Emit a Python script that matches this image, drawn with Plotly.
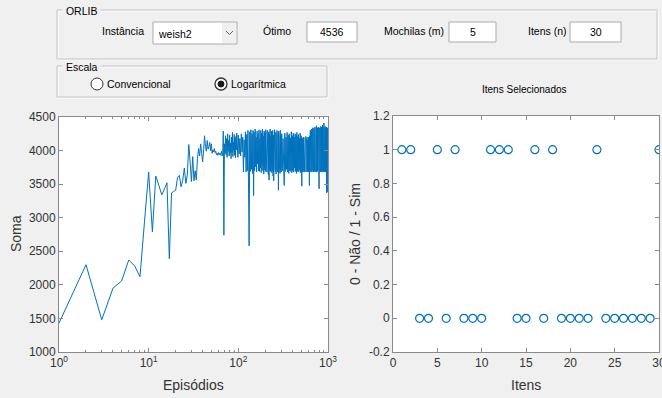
import plotly.graph_objects as go

# ---------------- data ----------------
soma_1_100 = [1430, 2300, 1480, 1950, 2060, 2370, 2280, 2120, 2950, 3680,
              2790, 3620, 3480, 3340, 3430, 3520, 2390, 3370, 3390, 3410,
              3600, 3630, 3460, 3560, 3740, 3510, 3640, 4090, 3830, 3540,
              3910, 3550, 3700, 3560, 3880, 4030, 3920, 4100, 3960, 3830,
              4010, 4220, 4060, 3990, 4150, 4020, 4060, 4120, 4000, 4100,
              3960, 4010, 3980, 4030, 3970, 3990, 3940, 3960, 3930, 3970,
              3940, 3960, 3930, 3950, 3990, 3920, 3950, 4290, 2740, 4100,
              3960, 4220, 3940, 4180, 3900, 4250, 3990, 4150, 3920, 4230,
              3960, 4110, 3880, 4200, 3970, 4270, 3910, 4120, 4000, 4240,
              3930, 4180, 3890, 4210, 4010, 4260, 3950, 4150, 3900, 4230]
soma_102_300 = [3950, 4180, 3920, 4250, 3980, 4200, 3680, 4160, 3900, 4280,
                3680, 4240, 3700, 4300, 3750, 2580, 4280, 3690, 4310, 3720,
                4250, 3660, 4300, 3330, 4270, 3700, 4320, 3760, 4200, 3680,
                4290, 3800, 4250, 3700, 4310, 3690, 4180, 3740, 4300, 3670,
                4260, 3780, 4320, 3700, 4220, 3650, 4290, 3720, 4270, 3690,
                4310, 3760, 4240, 3680, 4300, 3700, 4190, 3640, 4280, 3560,
                4250, 3710, 4320, 3690, 4210, 3750, 4290, 3670, 4260, 3700,
                4300, 3620, 4230, 3550, 4280, 3690, 4310, 3720, 4200, 3680,
                4270, 3650, 4240, 3700, 4300, 3740, 4220, 3680, 4260, 3410,
                4290, 3690, 4180, 3720, 4250, 3660, 4300, 3700, 4230, 3680]
soma_305_1000 = [4250, 3700, 4180, 3680, 3480, 4260, 3690, 4200, 3720, 4270,
                 3680, 4230, 3660, 4250, 3700, 4190, 3690, 4280, 3670, 4220,
                 3700, 4260, 3680, 4200, 3740, 4250, 3690, 4230, 3660, 4270,
                 3700, 4210, 3680, 4240, 3690, 4180, 3720, 4260, 3670, 4220,
                 4200, 3470, 4190, 3690, 4170, 3680, 4200, 3700, 4150, 3680,
                 4190, 3690, 4210, 3680, 4180, 3700, 4200, 3690, 4160, 3680,
                 4200, 3690, 4180, 3480, 4220, 3680, 4300, 3700, 4260, 3690,
                 4320, 3680, 4280, 3700, 4340, 3690, 4290, 3680, 4330, 3700,
                 4280, 3690, 4350, 3680, 4300, 3700, 4330, 3690, 4370, 3680,
                 4310, 3690, 4340, 3700, 4290, 3680, 4350, 3690, 3430, 4320,
                 3690, 4340, 3680, 4300, 3700, 4360, 3690, 4330, 3680, 4350,
                 3700, 4310, 3690, 4380, 3680, 4340, 3700, 4320, 3690, 4410,
                 3680, 4350, 3690, 4330, 3700, 4360, 3680, 4340, 3690, 4320,
                 3700, 4350, 3370, 4330, 3690, 4300, 3680, 4340, 3380, 4320]
episodios = list(range(1, 101)) + list(range(102, 301, 2)) + list(range(305, 1001, 5))
soma = soma_1_100 + soma_102_300 + soma_305_1000

itens = list(range(1, 31))
selecionados = [1, 1, 0, 0, 1, 0, 1, 0, 0, 0,
                1, 1, 1, 0, 0, 1, 0, 1, 0, 0,
                0, 0, 1, 0, 0, 0, 0, 0, 0, 1]

log_tickvals = [1, 10, 100, 1000]
log_ticktext = ["10<sup>0</sup>", "10<sup>1</sup>", "10<sup>2</sup>", "10<sup>3</sup>"]
log_minor = [m * d for d in (1, 10, 100) for m in range(2, 10)]
sel_tickvals = [-0.2, 0, 0.2, 0.4, 0.6, 0.8, 1, 1.2]
sel_ticktext = ["-0.2", "0", "0.2", "0.4", "0.6", "0.8", "1", "1.2"]

# ---------------- layout helpers ----------------
W, H = 662, 398
def X(px): return px / W
def Y(py): return 1 - py / H

BLUE = "#0072BD"
AX = "#8a8a8a"
TXT = "#333333"
GUI_FONT = dict(family="Liberation Sans, Arial, sans-serif", size=10.5, color="#000000")
AX_FONT = dict(family="Liberation Sans, Arial, sans-serif", size=12, color=TXT)

fig = go.Figure()
fig.add_trace(go.Scatter(x=episodios, y=soma, mode="lines",
                         line=dict(color=BLUE, width=1), xaxis="x", yaxis="y",
                         showlegend=False, hoverinfo="skip"))
fig.add_trace(go.Scatter(x=itens, y=selecionados, mode="markers",
                         marker=dict(symbol="circle-open", size=8, color=BLUE,
                                     line=dict(width=1.2, color=BLUE)),
                         xaxis="x2", yaxis="y2", showlegend=False, hoverinfo="skip"))

common = dict(showline=True, linecolor=AX, linewidth=1, mirror="ticks", ticks="inside",
              ticklen=4, tickcolor=AX, showgrid=False, zeroline=False,
              tickfont=AX_FONT, automargin=False, fixedrange=True,
              ticklabeloverflow="allow")

fig.update_layout(
    width=W, height=H, autosize=False,
    margin=dict(l=0, r=0, t=0, b=0, pad=0),
    paper_bgcolor="#f0f0f0", plot_bgcolor="#ffffff",
    xaxis=dict(domain=[X(59), X(328)], type="log", range=[0, 3],
               tickvals=log_tickvals, ticktext=log_ticktext, anchor="y",
               minor=dict(tickvals=log_minor, ticks="inside", ticklen=2, tickcolor=AX),
               **common),
    yaxis=dict(domain=[Y(352), Y(117)], range=[1000, 4500], dtick=500, tick0=1000,
               anchor="x", **common),
    xaxis2=dict(domain=[X(393), X(659)], range=[0, 30], dtick=5, tick0=0, anchor="y2",
                **common),
    yaxis2=dict(domain=[Y(352), Y(116)], range=[-0.2, 1.2], tickvals=sel_tickvals,
                ticktext=sel_ticktext, anchor="x2", **common),
)

shapes = []
ann = []

def rect(x0, y0, x1, y1, line="#ababab", fill=None, width=1):
    shapes.append(dict(type="rect", xref="paper", yref="paper",
                       x0=X(x0), x1=X(x1), y0=Y(y1), y1=Y(y0),
                       line=dict(color=line, width=width),
                       fillcolor=fill if fill else "rgba(0,0,0,0)", layer="below"))

def text(x, y, s, anchor="left", font=None, bg=None):
    ann.append(dict(xref="paper", yref="paper", x=X(x), y=Y(y), text=s,
                    showarrow=False, xanchor=anchor, yanchor="middle",
                    font=font or GUI_FONT, borderpad=0,
                    bgcolor=bg if bg else "rgba(0,0,0,0)"))

# Panels (etched borders)
for (x0, y0, x1, y1) in [(57, 10, 657, 59), (57, 66, 327, 97)]:
    rect(x0 + 1, y0 + 1, x1 + 1, y1 + 1, line="#ffffff")
    rect(x0, y0, x1, y1, line="#c4c4c4")
text(62, 11, " ORLIB ", bg="#f0f0f0")
text(62, 67, " Escala ", bg="#f0f0f0")

# ORLIB controls
text(101, 31, "Instância")
rect(153, 22, 237, 44, line="#ababab", fill="#ffffff")
rect(222, 23, 236, 43, line="rgba(0,0,0,0)", fill="#f0f0f0")
shapes.append(dict(type="path", xref="paper", yref="paper",
                   path=f"M {X(226)} {Y(31)} L {X(229.5)} {Y(34.5)} L {X(233)} {Y(31)}",
                   line=dict(color="#606060", width=1)))
text(157, 34, "weish2")

text(262, 31, "Ótimo")
rect(307, 22, 357, 42, fill="#ffffff")
text(332, 32, "4536", anchor="center")

text(383, 31, "Mochilas (m)")
rect(449, 22, 496, 42, fill="#ffffff")
text(472.5, 32, "5", anchor="center")

text(527, 31, "Itens (n)")
rect(570, 22, 621, 42, fill="#ffffff")
text(595.5, 32, "30", anchor="center")

# Radio buttons
def circle(cx, cy, r, line, fill, width=1):
    shapes.append(dict(type="circle", xref="paper", yref="paper",
                       x0=X(cx - r), x1=X(cx + r), y0=Y(cy + r), y1=Y(cy - r),
                       line=dict(color=line, width=width), fillcolor=fill))
circle(97, 84, 6, "#333333", "#ffffff")
text(106, 84, "Convencional")
circle(221, 84, 6, "#333333", "#ffffff", width=1.3)
circle(221, 84, 3, "#1a1a1a", "#1a1a1a")
text(230, 84, "Logarítmica")

# Axes titles
LBL = dict(family="Liberation Sans, Arial, sans-serif", size=14, color=TXT)
text(524, 90, "Itens Selecionados", anchor="center",
     font=dict(family="Liberation Sans, Arial, sans-serif", size=10, color="#000000"))
ann.append(dict(xref="paper", yref="paper", x=X(16), y=Y(234), text="Soma", textangle=-90,
                showarrow=False, xanchor="center", yanchor="middle", font=LBL))
ann.append(dict(xref="paper", yref="paper", x=X(193), y=Y(385), text="Episódios",
                showarrow=False, xanchor="center", yanchor="middle", font=LBL))
ann.append(dict(xref="paper", yref="paper", x=X(355), y=Y(234), text="0 - Não / 1 - Sim",
                textangle=-90, showarrow=False, xanchor="center", yanchor="middle", font=LBL))
ann.append(dict(xref="paper", yref="paper", x=X(526), y=Y(385), text="Itens",
                showarrow=False, xanchor="center", yanchor="middle", font=LBL))

fig.update_layout(shapes=shapes, annotations=ann)
fig.write_html("out.html")
